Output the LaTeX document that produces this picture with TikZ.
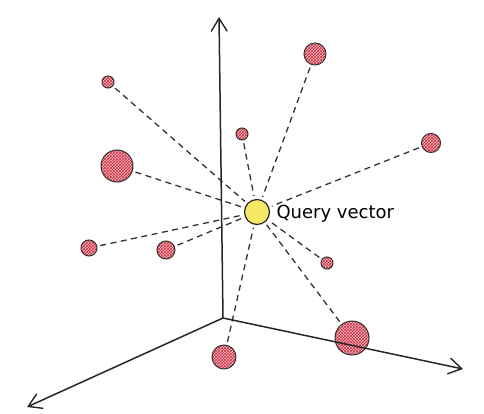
\documentclass[tikz,border=0pt]{standalone}
\usepackage{fontspec}
\setmainfont{DejaVu Sans}
\usetikzlibrary{patterns,arrows.meta}
\definecolor{qyellow}{RGB}{246,232,100}
\definecolor{ptfill}{RGB}{246,184,190}
\definecolor{hatch}{RGB}{200,45,65}
\begin{document}
\begin{tikzpicture}[x=1pt,y=-1pt,
  pt/.style={circle,draw=black!80,line width=1pt,inner sep=0pt,minimum size=#1,
    preaction={fill=ptfill},pattern=crosshatch,pattern color=hatch},
  axis/.style={line width=1.5pt,draw=black!85,-{Straight Barb[length=13pt,width=16pt,line width=1.4pt]}},
  link/.style={dash pattern=on 6pt off 4.5pt,line width=1.3pt,draw=black!80,shorten <=3pt,shorten >=3pt}]
\useasboundingbox (0,0) rectangle (484,414);
\fill[white] (0,0) rectangle (484,414);
% query
\node[circle,draw=black!85,line width=1.2pt,fill=qyellow,minimum size=25pt,inner sep=0pt] (q) at (257,212) {};
\node[anchor=west,font=\fontsize{18}{20}\selectfont] (lbl) at (273,214) {Query vector};
% points
\node[pt=12pt] (p1) at (108,82) {};
\node[pt=32pt] (p2) at (117,166) {};
\node[pt=16pt] (p3) at (89,248) {};
\node[pt=18pt] (p4) at (166,250) {};
\node[pt=12pt] (p5) at (242,134) {};
\node[pt=22pt] (p6) at (315,54) {};
\node[pt=19pt] (p7) at (431,143) {};
\node[pt=12pt] (p8) at (327,263) {};
\node[pt=34pt] (p9) at (352,338) {};
\node[pt=24pt] (p10) at (224,357) {};
% links
\foreach \p in {p1,p2,p3,p4,p5,p6,p7,p8,p9,p10}
  \draw[link] (\p) -- (q);
% axes
\coordinate (o) at (223,318);
\coordinate (yt) at (219,17);
\coordinate (xl) at (27,407);
\coordinate (xr) at (463,369);
\draw[axis] (o) -- (yt);
\draw[axis] (o) -- (xl);
\draw[axis] (o) -- (xr);
\end{tikzpicture}
\end{document}
